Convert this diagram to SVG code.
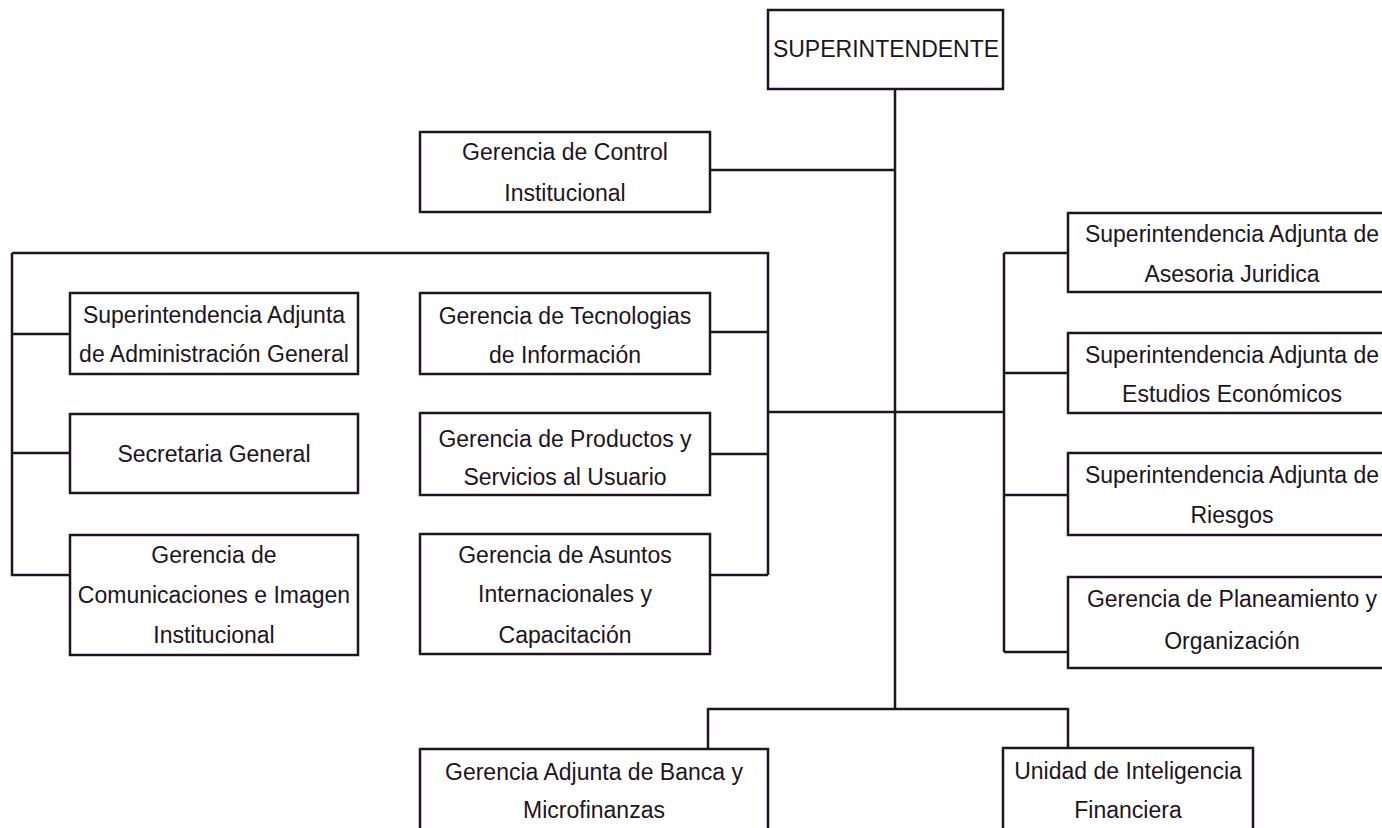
<svg xmlns="http://www.w3.org/2000/svg" width="1382" height="828" viewBox="0 0 1382 828">
<style>
.box{fill:#fff;stroke:#1e1420;stroke-width:2.5}
.ln{fill:none;stroke:#1e1420;stroke-width:2.5}
text{font-family:"Liberation Sans",Arial,sans-serif;font-size:23px;fill:#1e1420;text-anchor:middle}
</style>
<rect width="1382" height="828" fill="#fff"/>
<g id="connectors" class="ln">
<path d="M895 89V709"/>
<path d="M710 170H895"/>
<path d="M12 253H768V575"/>
<path d="M12 253V575H70"/>
<path d="M12 334H70M12 453H70"/>
<path d="M710 332H768M710 454H768M710 575H768"/>
<path d="M768 412H1004"/>
<path d="M1004 253V652"/>
<path d="M1004 253H1068M1004 373H1068M1004 495H1068M1004 652H1068"/>
<path d="M708 749V709H1068V748"/>
</g>
<g id="superintendente"><rect class="box" x="768" y="10" width="235" height="79"/><text x="886" y="57">SUPERINTENDENTE</text></g>
<g id="control"><rect class="box" x="420" y="132" width="290" height="80"/><text x="565" y="160">Gerencia de Control</text><text x="565" y="201">Institucional</text></g>
<g id="adm"><rect class="box" x="70" y="293" width="288" height="81"/><text x="214" y="323">Superintendencia Adjunta</text><text x="214" y="362">de Administración General</text></g>
<g id="secretaria"><rect class="box" x="70" y="414" width="288" height="79"/><text x="214" y="462">Secretaria General</text></g>
<g id="comunicaciones"><rect class="box" x="70" y="535" width="288" height="120"/><text x="214" y="563">Gerencia de</text><text x="214" y="603">Comunicaciones e Imagen</text><text x="214" y="643">Institucional</text></g>
<g id="tecnologias"><rect class="box" x="420" y="293" width="290" height="81"/><text x="565" y="324">Gerencia de Tecnologias</text><text x="565" y="363">de Información</text></g>
<g id="productos"><rect class="box" x="420" y="413" width="290" height="82"/><text x="565" y="447">Gerencia de Productos y</text><text x="565" y="485">Servicios al Usuario</text></g>
<g id="asuntos"><rect class="box" x="420" y="534" width="290" height="120"/><text x="565" y="563">Gerencia de Asuntos</text><text x="565" y="602">Internacionales y</text><text x="565" y="643">Capacitación</text></g>
<g id="juridica"><rect class="box" x="1068" y="213" width="330" height="79"/><text x="1232" y="242">Superintendencia Adjunta de</text><text x="1232" y="282">Asesoria Juridica</text></g>
<g id="economicos"><rect class="box" x="1068" y="333" width="330" height="80"/><text x="1232" y="363">Superintendencia Adjunta de</text><text x="1232" y="402">Estudios Económicos</text></g>
<g id="riesgos"><rect class="box" x="1068" y="453" width="330" height="82"/><text x="1232" y="483">Superintendencia Adjunta de</text><text x="1232" y="523">Riesgos</text></g>
<g id="planeamiento"><rect class="box" x="1068" y="577" width="330" height="91"/><text x="1232" y="607">Gerencia de Planeamiento y</text><text x="1232" y="649">Organización</text></g>
<g id="banca"><rect class="box" x="420" y="749" width="348" height="100"/><text x="594" y="780">Gerencia Adjunta de Banca y</text><text x="594" y="818">Microfinanzas</text></g>
<g id="uif"><rect class="box" x="1003" y="748" width="250" height="100"/><text x="1128" y="779">Unidad de Inteligencia</text><text x="1128" y="818">Financiera</text></g>
</svg>
